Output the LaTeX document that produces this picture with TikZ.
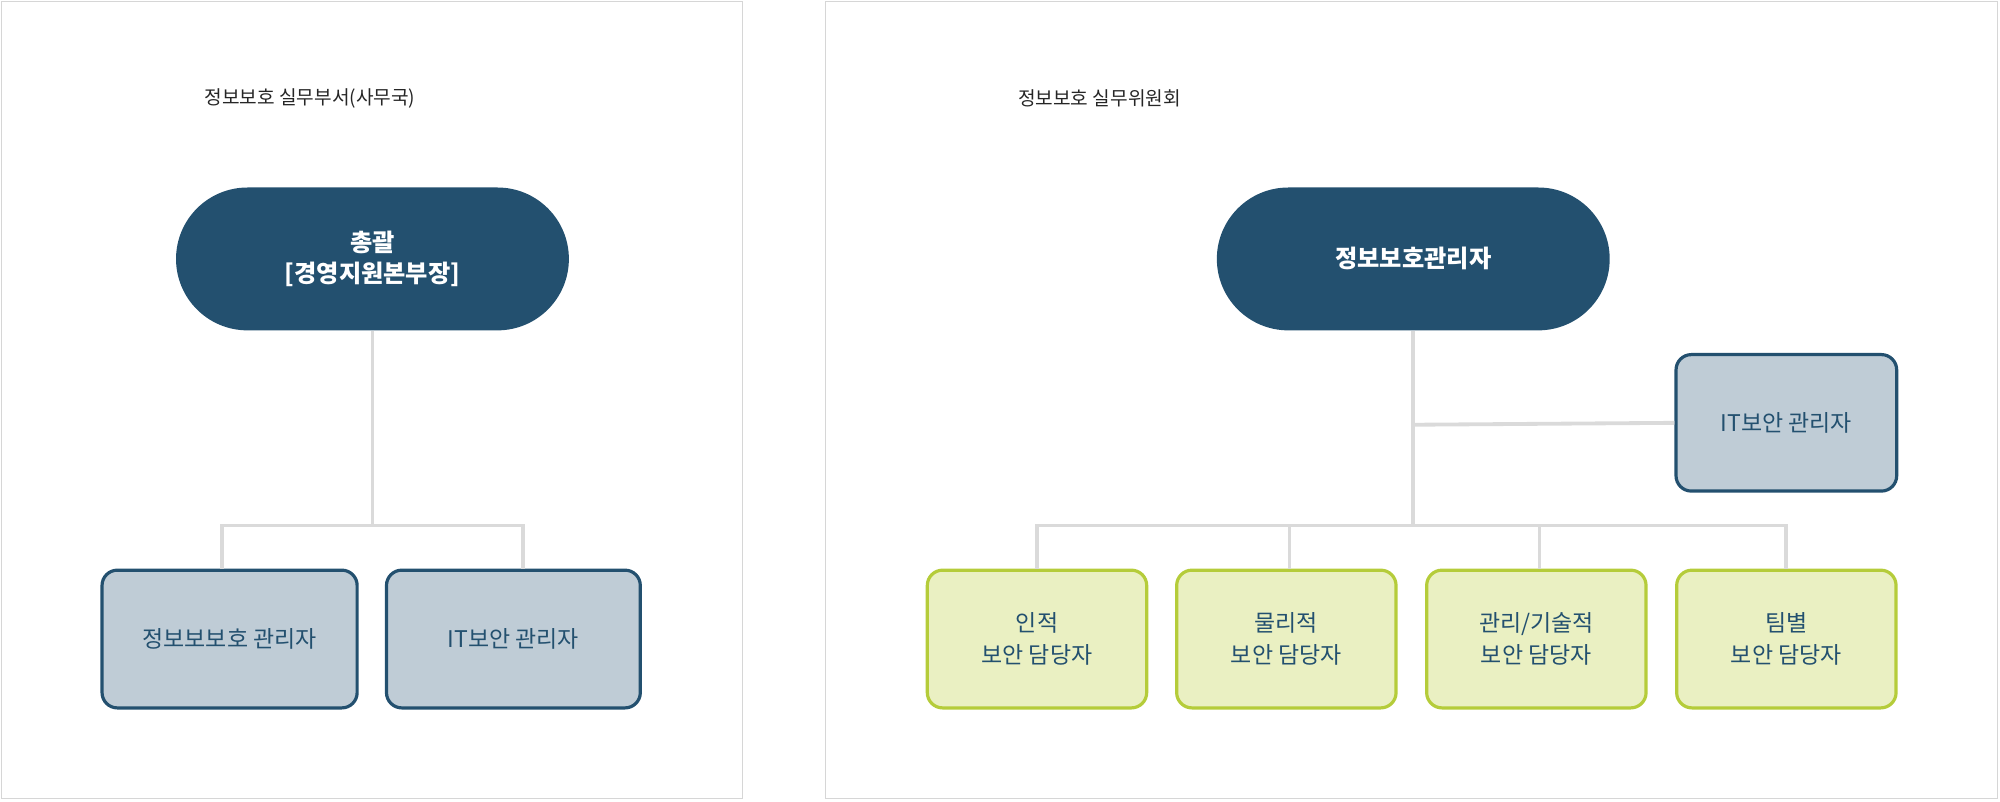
\documentclass[tikz,border=0pt]{standalone}
\usepackage{fontspec}
\setmainfont{Noto Sans CJK KR}
\newfontfamily\krbold{Noto Sans CJK KR Bold}
\definecolor{navy}{HTML}{23506F}
\definecolor{gbox}{HTML}{BFCCD6}
\definecolor{lg}{HTML}{EAF0C2}
\definecolor{lgb}{HTML}{B5CC3A}
\definecolor{conn}{HTML}{DADADA}
\definecolor{frame}{HTML}{D6D6D6}
\begin{document}
\begin{tikzpicture}[x=1pt,y=-1pt,
  pill/.style={draw=none,fill=navy,rounded corners=56pt,minimum width=308pt,minimum height=112pt,text=white,font=\fontsize{19}{25}\selectfont\bfseries,align=center},
  gb/.style={draw=navy,line width=2.5pt,fill=gbox,rounded corners=12pt,text=navy,font=\fontsize{18}{25}\selectfont,align=center},
  grn/.style={draw=lgb,line width=2.5pt,fill=lg,rounded corners=12pt,text=navy,font=\fontsize{18}{25}\selectfont,align=center,minimum width=172pt,minimum height=108pt},
  cn/.style={draw=conn,line width=3pt},
  ttl/.style={font=\fontsize{15}{18}\selectfont,text=black!85}]
\useasboundingbox (0,0) rectangle (1568,628);
\draw[frame,line width=1pt] (1,1) rectangle (582,626);
\draw[frame,line width=1pt] (647,1) rectangle (1566,626);
\node[ttl] (t1) at (243,77) {정보보호 실무부서(사무국)};
\node[ttl] (t2) at (862,77) {정보보호 실무위원회};
% left
\node[pill] (p1) at (292,203) {총괄\\{[경영지원본부장]}};
\node[gb,minimum width=200pt,minimum height=108pt] (l1) at (180,501) {정보보보호 관리자};
\node[gb,minimum width=199pt,minimum height=108pt] (l2) at (402.5,501) {IT보안 관리자};
\coordinate (j1) at (292,412);
\draw[cn] (p1.south) -- (j1);
\draw[cn] (l1.north -| 174,0) |- (j1) -| (l2.north -| 410,0);
% right
\node[pill] (p2) at (1108,203) {정보보호관리자};
\node[gb,minimum width=173pt,minimum height=107pt] (it) at (1400.5,331.5) {IT보안 관리자};
\coordinate (j2) at (1108,412);
\draw[cn] (p2.south) -- (j2);
\draw[cn] (1108,333) -- (it.west);
\node[grn] (g1) at (813,501) {인적\\보안 담당자};
\node[grn] (g2) at (1008.5,501) {물리적\\보안 담당자};
\node[grn] (g3) at (1204.5,501) {관리/기술적\\보안 담당자};
\node[grn] (g4) at (1400.5,501) {팀별\\보안 담당자};
\draw[cn] (g1.north) |- (j2) -| (g4.north);
\draw[cn] (g2.north -| 1011,0) -- (1011,412);
\draw[cn] (g3.north -| 1207,0) -- (1207,412);
\end{tikzpicture}
\end{document}
